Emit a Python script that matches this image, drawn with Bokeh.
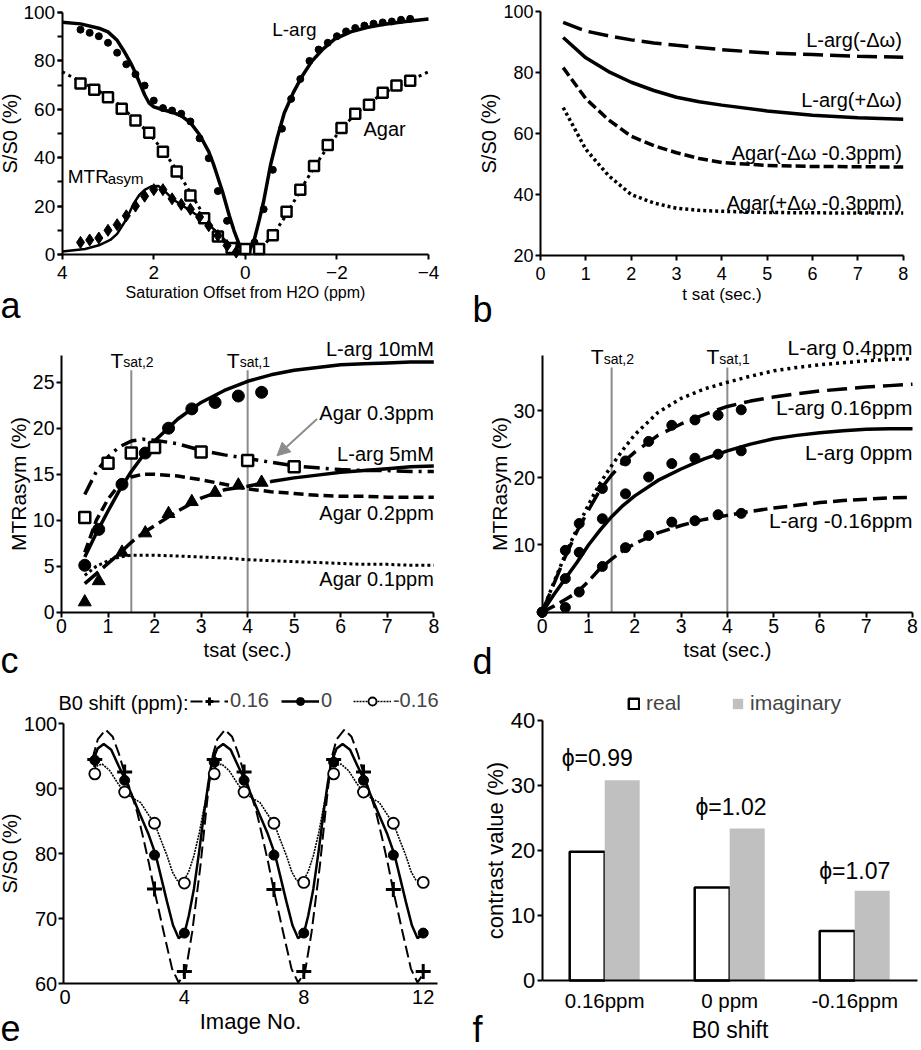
from bokeh.plotting import figure
from bokeh.models import (Range1d, FixedTicker, SingleIntervalTicker, Label, Arrow, NormalHead,
                          Legend, LegendItem)
from bokeh.layouts import column, row
from bokeh.embed import file_html
from bokeh.resources import INLINE

FONT = "Liberation Sans"

# ---------------- panel a data ----------------
a_larg_x = [3.6, 3.4, 3.2, 3.0, 2.8, 2.6, 2.4, 2.2, 2.0, 1.8, 1.6, 1.4, 1.2, 1.0, 0.8, 0.6, 0.4, 0.2, 0.0,
            -0.2, -0.4, -0.6, -0.8, -1.0, -1.2, -1.4, -1.6, -1.8, -2.0, -2.2, -2.4, -2.6, -2.8, -3.0, -3.2, -3.4, -3.6]
a_larg_y = [92.9, 91.6, 90.2, 87.5, 83.4, 78.6, 74.5, 69.8, 63.6, 60.5, 59.5, 58.2, 55.0, 48.0, 39.8, 26.2, 13.9, 3.7, 2.3,
            5.0, 18.7, 35.0, 52.0, 64.3, 72.5, 80.0, 84.7, 87.5, 90.2, 92.2, 93.6, 94.6, 95.4, 95.9, 96.3, 97.0, 97.4]
a_larg_fit_x = [4.0, 3.6, 3.2, 3.0, 2.8, 2.65, 2.5, 2.4, 2.3, 2.2, 2.1, 2.0, 1.8, 1.6, 1.4, 1.2, 1.0, 0.8, 0.69, 0.5,
                0.35, 0.25, 0.12, 0.0, -0.1, -0.2, -0.3, -0.4, -0.55, -0.7, -0.85, -1.05, -1.25, -1.45, -1.7, -1.95,
                -2.3, -2.65, -3.0, -3.5, -4.0]
a_larg_fit_y = [96.0, 95.3, 93.5, 92.0, 88.5, 84.0, 79.0, 75.0, 70.5, 66.0, 62.5, 61.0, 59.8, 58.8, 57.3, 54.5, 49.5, 42.5,
                37.0, 26.0, 16.0, 10.0, 3.5, 1.0, 2.0, 6.5, 14.0, 22.0, 37.0, 48.5, 58.5, 67.0, 74.0, 79.8, 85.0, 89.0,
                92.0, 93.8, 95.0, 96.3, 97.3]
a_agar_x = [3.6, 3.3, 3.0, 2.7, 2.4, 2.1, 1.8, 1.5, 1.2, 0.9, 0.6, 0.3, 0.0, -0.3, -0.6, -0.9, -1.2, -1.5, -1.8, -2.1,
            -2.4, -2.7, -3.0, -3.3, -3.6]
a_agar_y = [70.7, 68.1, 65.0, 60.2, 55.4, 50.3, 42.5, 34.3, 24.4, 15.0, 7.4, 2.7, 2.3, 2.3, 8.0, 17.7, 26.8, 36.6, 45.2,
            52.3, 58.2, 61.9, 66.8, 69.8, 71.8]
a_agar_fit_x = [4.0, 3.6, 3.3, 3.0, 2.7, 2.4, 2.1, 1.8, 1.5, 1.2, 0.9, 0.6, 0.4, 0.2, 0.0, -0.2, -0.4, -0.6, -0.9, -1.2,
                -1.5, -1.8, -2.1, -2.4, -2.7, -3.0, -3.3, -3.6, -4.0]
a_agar_fit_y = [75.5, 71.5, 68.5, 65.5, 61.0, 55.5, 50.0, 43.0, 35.0, 25.5, 16.0, 8.0, 4.0, 1.8, 1.2, 1.8, 3.8, 8.0, 16.5,
                26.5, 36.0, 44.5, 52.0, 58.0, 62.5, 66.5, 69.5, 72.0, 75.5]
a_mtr_x = [3.6, 3.4, 3.2, 3.0, 2.8, 2.6, 2.4, 2.2, 2.0, 1.8, 1.6, 1.4, 1.2, 1.0, 0.8, 0.6, 0.4, 0.2]
a_mtr_y = [5.0, 6.0, 6.8, 10.0, 12.3, 16.0, 20.0, 24.1, 26.8, 26.8, 23.0, 20.7, 18.7, 15.5, 11.9, 7.8, 3.7, 1.0]
a_mtr_fit_x = [4.0, 3.5, 3.2, 2.95, 2.8, 2.65, 2.55, 2.44, 2.32, 2.2, 2.05, 1.9, 1.75, 1.56, 1.3, 0.98, 0.75, 0.55,
               0.4, 0.25, 0.1, 0.0]
a_mtr_fit_y = [1.2, 2.3, 3.8, 6.0, 8.5, 13.0, 16.5, 21.0, 24.5, 26.7, 28.2, 28.3, 26.0, 22.5, 19.3, 15.3, 11.5, 8.0,
               5.0, 2.3, 0.5, 0.0]

# ---------------- panel b data ----------------
b_t = [0.5, 1.0, 1.5, 2.0, 2.5, 3.0, 3.5, 4.0, 5.0, 6.0, 7.0, 8.0]
b_larg_minus = [96.4, 93.6, 92.0, 90.7, 89.7, 88.9, 88.2, 87.5, 86.4, 85.9, 85.3, 85.0]
b_larg_plus = [91.5, 84.8, 80.3, 76.8, 74.1, 71.9, 70.4, 69.3, 67.4, 66.0, 65.2, 64.7]
b_agar_minus = [81.6, 71.4, 64.5, 59.1, 56.0, 53.7, 51.8, 50.5, 49.5, 49.2, 49.1, 49.0]
b_agar_plus = [68.5, 54.8, 46.2, 40.0, 37.2, 35.5, 34.8, 34.5, 34.1, 34.0, 33.9, 33.9]
b_labels = ["L-arg(-Δω)", "L-arg(+Δω)", "Agar(-Δω -0.3ppm)", "Agar(+Δω -0.3ppm)"]
b_label_y = [90.7, 70.9, 53.7, 37.1]

# ---------------- panel c data ----------------
c_t = [0.5, 0.8, 1.3, 1.8, 2.3, 2.8, 3.3, 3.8, 4.3]
c_l10 = [5.1, 9.0, 13.9, 17.3, 20.0, 22.1, 22.8, 23.5, 23.9]
c_l5 = [1.1, 3.4, 6.5, 8.6, 10.7, 12.0, 13.0, 13.8, 14.1]
c_agar_t = [0.5, 1.0, 1.5, 2.0, 3.0, 4.0, 5.0]
c_agar03 = [10.3, 16.2, 17.3, 17.9, 17.4, 16.5, 15.8]
c_fit_t = [0.5, 0.75, 1.0, 1.25, 1.5, 1.75, 2.0, 2.5, 3.0, 3.5, 4.0, 4.5, 5.0, 5.5, 6.0, 6.5, 7.0, 7.5, 8.0]
c_l10_fit = [6.0, 8.6, 11.0, 13.3, 15.3, 17.0, 18.6, 21.0, 22.8, 24.1, 25.1, 25.8, 26.3, 26.6, 26.9, 27.0, 27.1, 27.2, 27.2]
c_l5_fit = [3.1, 4.2, 5.3, 6.4, 7.6, 8.6, 9.4, 11.0, 12.4, 13.3, 13.7, 14.2, 14.6, 14.9, 15.2, 15.4, 15.6, 15.8, 15.9]
c_agar03_fit = [12.8, 15.3, 16.9, 18.0, 18.6, 18.8, 18.7, 18.3, 17.6, 17.1, 16.7, 16.3, 15.9, 15.7, 15.5, 15.4, 15.4, 15.3, 15.3]
c_agar02_fit = [6.5, 10.0, 12.3, 13.9, 14.7, 15.0, 15.0, 14.8, 14.4, 13.9, 13.4, 13.1, 12.9, 12.7, 12.6, 12.6, 12.5, 12.5, 12.5]
c_agar01_fit = [4.0, 5.0, 5.6, 6.0, 6.2, 6.2, 6.2, 6.1, 6.0, 5.9, 5.7, 5.6, 5.5, 5.4, 5.3, 5.2, 5.2, 5.1, 5.1]
c_labels = ["L-arg 10mM", "Agar 0.3ppm", "L-arg 5mM", "Agar 0.2ppm", "Agar 0.1ppm"]
c_label_y = [28.6, 21.7, 17.2, 10.8, 3.6]
tsat_x = [1.5, 4.0]
tsat_names = ["sat,2", "sat,1"]
c_arrow = [5.49, 21.0, 4.63, 17.0]

# ---------------- panel d data ----------------
d_t = [0, 0.5, 0.8, 1.3, 1.8, 2.3, 2.8, 3.3, 3.8, 4.3]
d_016 = [0, 9.2, 13.2, 18.4, 22.5, 25.4, 27.8, 28.6, 29.3, 30.1]
d_0 = [0, 5.0, 8.9, 13.9, 17.6, 20.1, 22.1, 22.9, 23.5, 24.0]
d_m016 = [0, 0.7, 3.0, 6.8, 9.6, 11.4, 13.4, 13.6, 14.5, 14.7]
d_fit_t = [0, 0.25, 0.5, 0.75, 1.0, 1.25, 1.5, 1.75, 2.0, 2.5, 3.0, 3.5, 4.0, 4.5, 5.0, 5.5, 6.0, 6.5, 7.0, 7.5, 8.0]
d_04_fit = [0, 4.4, 8.6, 12.4, 16.0, 19.2, 21.8, 24.2, 26.4, 29.7, 31.8, 33.2, 34.2, 35.1, 35.9, 36.4, 36.8, 37.1, 37.4, 37.6, 37.7]
d_016_fit = [0, 4.2, 8.3, 12.0, 15.2, 18.2, 20.4, 22.3, 23.8, 26.3, 28.0, 29.4, 30.6, 31.4, 32.0, 32.5, 32.9, 33.2, 33.5, 33.7, 33.9]
d_0_fit = [0, 2.6, 5.0, 7.4, 10.0, 12.2, 14.2, 15.9, 17.3, 19.6, 21.3, 22.8, 24.0, 25.0, 25.8, 26.3, 26.7, 27.0, 27.2, 27.3, 27.3]
d_m016_fit = [0, 0.9, 1.9, 2.9, 4.6, 6.5, 7.9, 9.2, 10.2, 11.8, 12.9, 13.8, 14.4, 15.0, 15.5, 15.9, 16.3, 16.6, 16.8, 17.0, 17.1]
d_labels = ["L-arg 0.4ppm", "L-arg 0.16ppm", "L-arg 0ppm", "L-arg -0.16ppm"]
d_label_y = [39.4, 30.5, 23.8, 13.6]

# ---------------- panel e data ----------------
e_img = [1, 2, 3, 4, 5, 6, 7, 8, 9, 10, 11, 12]
e_016 = [94.5, 92.6, 74.6, 61.9, 94.5, 92.6, 74.5, 61.9, 94.5, 92.6, 74.5, 61.9]
e_0 = [94.4, 91.3, 79.8, 67.8, 94.1, 91.3, 79.8, 67.8, 94.1, 91.3, 79.8, 67.8]
e_m016 = [92.3, 89.5, 84.7, 75.5, 92.3, 89.5, 84.7, 75.6, 92.3, 89.5, 84.7, 75.6]
e_016_cx = [0.92, 1.1, 1.36, 1.6, 1.8, 2.0, 2.2, 2.42, 2.62, 2.81, 3.0, 3.31, 3.59, 3.81, 4.04, 4.26, 4.54, 4.75,
            4.92, 5.1, 5.36, 5.6, 5.8, 6.0, 6.2, 6.42, 6.62, 6.81, 7.0, 7.31, 7.59, 7.81, 8.04, 8.26, 8.54, 8.75,
            8.92, 9.1, 9.36, 9.6, 9.8, 10.0, 10.2, 10.42, 10.62, 10.81, 11.0, 11.31, 11.59, 11.81, 12.04]
e_016_cy = [94.6, 97.6, 99.1, 98.0, 95.5, 92.4, 89.6, 86.4, 82.5, 78.6, 74.3, 67.9, 62.3, 60.2, 61.8, 67.9, 78.2, 87.5,
            94.6, 97.6, 99.1, 98.0, 95.5, 92.4, 89.6, 86.4, 82.5, 78.6, 74.3, 67.9, 62.3, 60.2, 61.8, 67.9, 78.2, 87.5,
            94.6, 97.6, 99.1, 98.0, 95.5, 92.4, 89.6, 86.4, 82.5, 78.6, 74.3, 67.9, 62.3, 60.2, 61.8]
e_0_cx = [0.92, 1.1, 1.3, 1.55, 1.8, 2.03, 2.3, 2.53, 2.8, 3.03, 3.2, 3.42, 3.62, 3.81, 4.0, 4.15, 4.32, 4.5, 4.65, 4.8,
          4.92, 5.1, 5.3, 5.55, 5.8, 6.03, 6.3, 6.53, 6.8, 7.03, 7.2, 7.42, 7.62, 7.81, 8.0, 8.15, 8.32, 8.5, 8.65, 8.8,
          8.92, 9.1, 9.3, 9.55, 9.8, 10.03, 10.3, 10.53, 10.8, 11.03, 11.2, 11.42, 11.62, 11.81, 12.0]
e_0_cy = [94.1, 96.2, 96.9, 96.0, 93.5, 91.3, 88.4, 85.9, 83.0, 80.0, 76.8, 72.6, 69.0, 67.0, 67.7, 70.5, 74.6, 80.5, 85.9, 90.8,
          94.1, 96.2, 96.9, 96.0, 93.5, 91.3, 88.4, 85.9, 83.0, 80.0, 76.8, 72.6, 69.0, 67.0, 67.7, 70.5, 74.6, 80.5, 85.9, 90.8,
          94.1, 96.2, 96.9, 96.0, 93.5, 91.3, 88.4, 85.9, 83.0, 80.0, 76.8, 72.6, 69.0, 67.0, 67.7]
e_m016_cx = [0.92, 1.1, 1.25, 1.5, 1.75, 1.97, 2.25, 2.53, 2.8, 3.01, 3.2, 3.42, 3.6, 3.76, 3.98, 4.15, 4.32, 4.5, 4.65, 4.8,
             4.92, 5.1, 5.25, 5.5, 5.75, 5.97, 6.25, 6.53, 6.8, 7.01, 7.2, 7.42, 7.6, 7.76, 7.98, 8.15, 8.32, 8.5, 8.65, 8.8,
             8.92, 9.1, 9.25, 9.5, 9.75, 9.97, 10.25, 10.53, 10.8, 11.01, 11.2, 11.42, 11.6, 11.76, 11.98]
e_m016_cy = [92.8, 93.6, 93.8, 92.8, 91.0, 89.6, 88.6, 87.9, 86.0, 84.6, 82.3, 79.7, 77.2, 75.9, 75.8, 77.3, 79.7, 83.2, 86.9, 90.2,
             92.8, 93.6, 93.8, 92.8, 91.0, 89.6, 88.6, 87.9, 86.0, 84.6, 82.3, 79.7, 77.2, 75.9, 75.8, 77.3, 79.7, 83.2, 86.9, 90.2,
             92.8, 93.6, 93.8, 92.8, 91.0, 89.6, 88.6, 87.9, 86.0, 84.6, 82.3, 79.7, 77.2, 75.9, 75.8]
e_series = ["0.16", "0", "-0.16"]

# ---------------- panel f data ----------------
f_cats = ["0.16ppm", "0 ppm", "-0.16ppm"]
f_real = [19.8, 14.3, 7.6]
f_imag = [30.8, 23.4, 13.8]
f_phi = ["ϕ=0.99", "ϕ=1.02", "ϕ=1.07"]
f_phi_x = [0.44, 1.51, 2.5]
f_phi_y = [34.2, 26.7, 16.9]


def rng(p_a, v_a, p_b, v_b, lo, hi):
    k = (v_b - v_a) / (p_b - p_a)
    return Range1d(v_a + (lo - p_a) * k, v_a + (hi - p_a) * k)


def mkfig(cx, cy, w, h, xmap, ymap, xloc, yloc, xb, yb, tick=19, xlab="", ylab="", xls=16, yls=20):
    xr = rng(*xmap, cx, cx + w)
    yr = rng(*ymap, cy + h, cy)
    p = figure(width=w, height=h, x_range=xr, y_range=yr, output_backend="svg", toolbar_location=None,
               min_border=0)
    p.grid.visible = False
    p.outline_line_color = None
    p.xaxis.axis_label = xlab
    p.yaxis.axis_label = ylab
    p.xaxis.fixed_location = xloc
    p.yaxis.fixed_location = yloc
    p.xaxis.bounds = xb
    p.yaxis.bounds = yb
    for ax in (p.xaxis[0], p.yaxis[0]):
        ax.axis_line_width = 2
        ax.axis_line_color = "black"
        ax.major_tick_line_width = 2
        ax.major_tick_line_color = "black"
        ax.major_tick_in = 0
        ax.major_tick_out = 5
        ax.minor_tick_line_color = None
        ax.major_label_text_font = FONT
        ax.major_label_text_font_size = f"{tick}px"
        ax.major_label_text_color = "black"
        ax.axis_label_text_font = FONT
        ax.axis_label_text_font_style = "normal"
        ax.axis_label_text_color = "black"
        ax.major_label_standoff = 2
        ax.axis_label_standoff = 2
    p.xaxis[0].axis_label_text_font_size = f"{xls}px"
    p.yaxis[0].axis_label_text_font_size = f"{yls}px"
    p.yaxis[0].axis_label_standoff = 0
    return p


def lab(p, x, y, text, size, align="left", units="data", xo=0):
    p.add_layout(Label(x=x, y=y, x_units=units, y_units=units, text=text, text_font=FONT,
                       text_font_size=f"{size}px", text_align=align, text_baseline="middle",
                       x_offset=xo, text_color="black"))


def letter(p, x, y, t):
    lab(p, x, y, t, 36, "left", "screen")


# ---------------- panel a ----------------
pa = mkfig(0, 0, 460, 330, (61.7, 4, 428, -4), (254, 0, 12, 100), 0, 4, (-4, 4), (0, 100), tick=19,
           xlab="Saturation Offset from H2O (ppm)", ylab="S/S0 (%)", xls=16, yls=20)
pa.xaxis.ticker = FixedTicker(ticks=[4, 2, 0, -2, -4])
pa.yaxis.ticker = SingleIntervalTicker(interval=20, num_minor_ticks=2)
pa.yaxis.minor_tick_line_color = "black"
pa.yaxis.minor_tick_line_width = 2
pa.yaxis.minor_tick_in = 0
pa.yaxis.minor_tick_out = 5
pa.xaxis.major_label_standoff = 6
pa.line(a_agar_fit_x, a_agar_fit_y, line_color="black", line_width=3, line_dash="3 4")
pa.line(a_larg_fit_x, a_larg_fit_y, line_color="black", line_width=3.5)
pa.line(a_mtr_fit_x, a_mtr_fit_y, line_color="black", line_width=2.5)
pa.scatter(a_larg_x, a_larg_y, marker="circle", size=7, fill_color="black", line_color="black")
pa.scatter(a_agar_x, a_agar_y, marker="square", size=10, fill_color="white", line_color="black", line_width=2.5)
pa.scatter(a_mtr_x, a_mtr_y, marker="diamond", size=12, fill_color="black", line_color="black")
lab(pa, -1.07, 93, "L-arg", 19, "center")
lab(pa, -2.58, 52, "Agar", 20)
lab(pa, 3.88, 32.2, "MTR", 19, "left")
lab(pa, 3.88, 31.6, "asym", 15, "left", xo=40)
letter(pa, 0, 25.5, "a")

# ---------------- panel b ----------------
pb = mkfig(460, 0, 460, 330, (540, 0, 902.7, 8), (255, 20, 11, 100), 20, 0, (0, 8), (20, 100), tick=18,
           xlab="t sat (sec.)", ylab="S/S0 (%)", xls=17, yls=20)
pb.xaxis.ticker = SingleIntervalTicker(interval=1, num_minor_ticks=0)
pb.yaxis.ticker = SingleIntervalTicker(interval=20, num_minor_ticks=0)
pb.xaxis.major_label_standoff = 6
pb.line(b_t, b_larg_minus, line_color="black", line_width=3.5, line_dash="20 7")
pb.line(b_t, b_larg_plus, line_color="black", line_width=3.5)
pb.line(b_t, b_agar_minus, line_color="black", line_width=3.5, line_dash="10 4")
pb.line(b_t, b_agar_plus, line_color="black", line_width=3.5, line_dash="3 3")
for t, yv in zip(b_labels, b_label_y):
    lab(pb, 7.97, yv, t, 20, "right")
letter(pb, 12, 21, "b")

# ---------------- panel c ----------------
pc = mkfig(0, 330, 460, 360, (61, 0, 433.3, 8), (611.7, 0, 381.7, 25), 0, 0, (0, 8), (0, 27.9), tick=19.5,
           xlab="tsat (sec.)", ylab="MTRasym (%)", xls=20, yls=21)
pc.xaxis.ticker = SingleIntervalTicker(interval=1, num_minor_ticks=0)
pc.yaxis.ticker = SingleIntervalTicker(interval=5, num_minor_ticks=0)
pc.segment(x0=tsat_x, y0=[0, 0], x1=tsat_x, y1=[26.3, 26.3], line_color="#8c8c8c", line_width=2)
split = [i for i, t in enumerate(c_fit_t) if t <= 4.5]
rest = [i for i, t in enumerate(c_fit_t) if t >= 4.5]
pc.line(c_fit_t, c_agar01_fit, line_color="black", line_width=3, line_dash="3 3")
pc.line(c_fit_t, c_agar02_fit, line_color="black", line_width=3.5, line_dash="10 5")
pc.line(c_fit_t, c_agar03_fit, line_color="black", line_width=3.5, line_dash="16 6 3 6")
pc.line([c_fit_t[i] for i in split], [c_l5_fit[i] for i in split], line_color="black", line_width=3.5, line_dash="18 6")
pc.line([c_fit_t[i] for i in rest], [c_l5_fit[i] for i in rest], line_color="black", line_width=3.5)
pc.line(c_fit_t, c_l10_fit, line_color="black", line_width=3.5)
pc.scatter(c_t, c_l10, marker="circle", size=12, fill_color="black", line_color="black")
pc.scatter(c_t, c_l5, marker="triangle", size=13, fill_color="black", line_color="black")
pc.scatter(c_agar_t, c_agar03, marker="square", size=11, fill_color="white", line_color="black", line_width=2.5)
for t, yv in zip(c_labels, c_label_y):
    lab(pc, 8.0, yv, t, 20, "right")
for xv, nm in zip(tsat_x, tsat_names):
    lab(pc, xv, 27.4, "T", 21, "right", xo=-8)
    lab(pc, xv, 27.15, nm, 14, "left", xo=-8)
pc.add_layout(Arrow(end=NormalHead(size=13, fill_color="#8c8c8c", line_color="#8c8c8c"),
                    x_start=c_arrow[0], y_start=c_arrow[1], x_end=c_arrow[2], y_end=c_arrow[3],
                    line_color="#8c8c8c", line_width=2))
letter(pc, 0, 30.5, "c")

# ---------------- panel d ----------------
pd_ = mkfig(460, 330, 460, 360, (541.7, 0, 912, 8), (611.7, 0, 410, 30), 0, 0, (0, 8), (0, 38.2), tick=19.5,
            xlab="tsat (sec.)", ylab="MTRasym (%)", xls=20, yls=21)
pd_.xaxis.ticker = SingleIntervalTicker(interval=1, num_minor_ticks=0)
pd_.yaxis.ticker = FixedTicker(ticks=[10, 20, 30])
pd_.segment(x0=tsat_x, y0=[0, 0], x1=tsat_x, y1=[36.4, 36.4], line_color="#8c8c8c", line_width=2)
pd_.line(d_fit_t, d_04_fit, line_color="black", line_width=3.5, line_dash="3 4")
pd_.line(d_fit_t, d_016_fit, line_color="black", line_width=3.5, line_dash="20 8")
pd_.line(d_fit_t, d_0_fit, line_color="black", line_width=3.5)
pd_.line(d_fit_t, d_m016_fit, line_color="black", line_width=3.5, line_dash="14 6")
pd_.scatter(d_t, d_016, marker="circle", size=10, fill_color="black", line_color="black")
pd_.scatter(d_t, d_0, marker="circle", size=10, fill_color="black", line_color="black")
pd_.scatter(d_t, d_m016, marker="circle", size=10, fill_color="black", line_color="black")
for t, yv in zip(d_labels, d_label_y):
    lab(pd_, 8.0, yv, t, 21, "right")
for xv, nm in zip(tsat_x, tsat_names):
    lab(pd_, xv, 38.1, "T", 21, "right", xo=-8)
    lab(pd_, xv, 37.7, nm, 14, "left", xo=-8)
letter(pd_, 12, 29.5, "d")

# ---------------- panel e ----------------
pe = mkfig(0, 690, 460, 359, (94.3, 1, 422.7, 12), (983.3, 60, 723.3, 100), 60, -0.06, (-0.06, 12.47), (60, 100),
           tick=20, xlab="Image No.", ylab="S/S0 (%)", xls=22, yls=20)
pe.xaxis.ticker = FixedTicker(ticks=[0, 4, 8, 12])
pe.yaxis.ticker = SingleIntervalTicker(interval=10, num_minor_ticks=0)
pe.yaxis.major_label_standoff = 1
pe.xaxis.major_tick_out = 0
pe.xaxis.major_label_standoff = 6
l1 = pe.line(e_016_cx, e_016_cy, line_color="black", line_width=2, line_dash="12 5")
l2 = pe.line(e_0_cx, e_0_cy, line_color="black", line_width=2.5)
l3 = pe.line(e_m016_cx, e_m016_cy, line_color="black", line_width=1.6, line_dash="2 1")
s1 = pe.scatter(e_img, e_016, marker="cross", size=15, line_color="black", line_width=3)
s2 = pe.scatter(e_img, e_0, marker="circle", size=10, fill_color="black", line_color="black")
s3 = pe.scatter(e_img, e_m016, marker="circle", size=11, fill_color="white", line_color="black", line_width=1.8)
leg_e = Legend(items=[LegendItem(label=e_series[0], renderers=[l1, s1]),
                      LegendItem(label=e_series[1], renderers=[l2, s2]),
                      LegendItem(label=e_series[2], renderers=[l3, s3])],
               orientation="horizontal", location=(190, 337), padding=0, margin=0, spacing=12,
               glyph_width=38, glyph_height=20, label_height=20, label_standoff=2, label_text_font=FONT,
               label_text_font_size="20px", border_line_color=None, background_fill_alpha=0)
pe.add_layout(leg_e)
lab(pe, 188, 347, "B0 shift (ppm):", 20, "right", "screen")
letter(pe, 0, 21.5, "e")

# ---------------- panel f ----------------
f_pos = [i + 0.5 for i in range(len(f_cats))]
pf = mkfig(460, 690, 460, 359, (541.7, 0, 916.7, 3), (980, 0, 720, 40), 0, 0, (0, 3), (0, 40), tick=22,
           xlab="B0 shift", ylab="contrast value (%)", xls=23, yls=22)
pf.yaxis.ticker = SingleIntervalTicker(interval=10, num_minor_ticks=0)
pf.xaxis.ticker = FixedTicker(ticks=f_pos)
pf.xaxis.major_label_overrides = {pos: c for pos, c in zip(f_pos, f_cats)}
pf.xaxis.major_tick_out = 0
pf.xaxis.major_label_text_font_size = "20.5px"
pf.xaxis.major_label_standoff = 8
r1 = pf.vbar(x=[q - 0.14 for q in f_pos], top=f_real, width=0.28,
             fill_color="white", line_color="black", line_width=2.5)
r2 = pf.vbar(x=[q + 0.14 for q in f_pos], top=f_imag, width=0.28,
             fill_color="#c0c0c0", line_color=None)
leg_f = Legend(items=[LegendItem(label="real", renderers=[r1]), LegendItem(label="imaginary", renderers=[r2])],
               orientation="horizontal", location=(167, 334), padding=0, margin=0, spacing=50,
               glyph_width=13, glyph_height=13, label_height=20, label_standoff=6, label_text_font=FONT,
               label_text_font_size="21px", border_line_color=None, background_fill_alpha=0)
pf.add_layout(leg_f)
for t, xv, yv in zip(f_phi, f_phi_x, f_phi_y):
    lab(pf, xv, yv, t, 23, "center")
letter(pf, 12, 20.5, "f")

layout = column(row(pa, pb), row(pc, pd_), row(pe, pf))
open("out.html", "w").write(file_html(layout, INLINE))
